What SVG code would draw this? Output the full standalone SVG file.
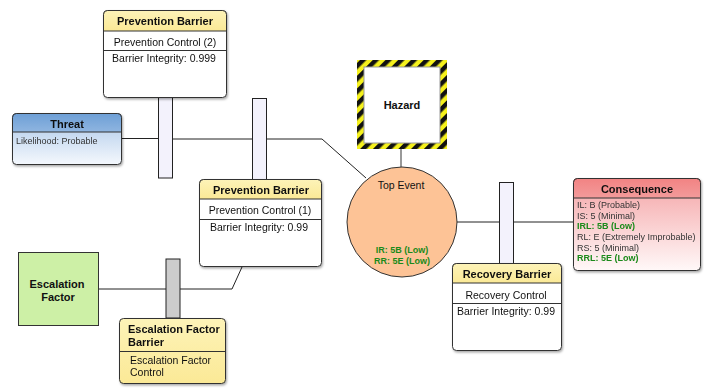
<svg xmlns="http://www.w3.org/2000/svg" width="705" height="388" viewBox="0 0 705 388">
<defs>
<linearGradient id="yel" x1="0" y1="0" x2="0" y2="1"><stop offset="0" stop-color="#fdf3b8"/><stop offset="1" stop-color="#fbe996"/></linearGradient>
<linearGradient id="blueHead" x1="0" y1="0" x2="0" y2="1"><stop offset="0" stop-color="#6d9fd6"/><stop offset="1" stop-color="#8fb5e0"/></linearGradient>
<linearGradient id="blueBody" x1="0" y1="0" x2="0" y2="1"><stop offset="0" stop-color="#a9c6e8"/><stop offset="1" stop-color="#f4f8fd"/></linearGradient>
<linearGradient id="redHead" x1="0" y1="0" x2="0" y2="1"><stop offset="0" stop-color="#f28383"/><stop offset="1" stop-color="#f39b9b"/></linearGradient>
<linearGradient id="redBody" x1="0" y1="0" x2="0" y2="1"><stop offset="0" stop-color="#f4a4a6"/><stop offset="1" stop-color="#fff8f8"/></linearGradient>
<pattern id="stripes" width="9" height="9" patternUnits="userSpaceOnUse" patternTransform="rotate(45)">
<rect width="9" height="9" fill="#f5f11c"/>
<rect width="4.5" height="9" fill="#111"/>
</pattern>
<filter id="sh" x="-10%" y="-10%" width="130%" height="130%"><feDropShadow dx="1" dy="1.5" stdDeviation="1" flood-color="#000" flood-opacity="0.35"/></filter>
</defs>
<style>
text{font-family:"Liberation Sans",Arial,sans-serif;fill:#111}
.t{font-size:11px;font-weight:bold}
.m{text-anchor:middle}
.b{font-size:10.5px}
.s{font-size:9px;fill:#333}
.g{fill:#1a8a1a;font-weight:bold}
.box{stroke:#333;stroke-width:1}
.ln{stroke:#222;stroke-width:1;fill:none}
.bar{fill:#f3f2fc;stroke:#222;stroke-width:1}
</style>

<g id="connectors">
<path class="ln" d="M121 138.5H158M172 139H252M267 139H322L366 178"/>
<path d="M401 149V167" stroke="#999" stroke-width="2" fill="none"/>
<path class="ln" d="M457 222H499M514 222H573"/>
<path class="ln" d="M98 289H166M180 289H232L242 267"/>
</g>

<g id="bar-prevention-2"><rect class="bar" x="158.5" y="97" width="14" height="81"/></g>
<g id="bar-prevention-1"><rect class="bar" x="252.5" y="98.5" width="14" height="81"/></g>
<g id="bar-recovery"><rect class="bar" x="499.5" y="182.5" width="14" height="81"/></g>
<g id="bar-escalation"><rect x="166" y="259" width="14" height="59" fill="#cccccc" stroke="#222"/></g>

<g id="prevention-barrier-2" filter="url(#sh)">
<rect class="box" x="103.5" y="10.5" width="123" height="87" rx="4" fill="#fff"/>
<path d="M103.5 31V14.5a4 4 0 0 1 4-4H222.5a4 4 0 0 1 4 4V31Z" fill="url(#yel)" stroke="#333"/>
<text class="t m" x="165" y="25">Prevention Barrier</text>
<text class="b m" x="165" y="45.5">Prevention Control (2)</text>
<path d="M104 50.5H226" stroke="#333"/>
<text class="b m" x="164" y="62">Barrier Integrity: 0.999</text>
</g>

<g id="threat" filter="url(#sh)">
<rect class="box" x="12.5" y="113.5" width="109" height="51" rx="4" fill="url(#blueBody)"/>
<path d="M12.5 132V117.5a4 4 0 0 1 4-4H117.5a4 4 0 0 1 4 4V132Z" fill="url(#blueHead)" stroke="#333"/>
<text class="t m" x="67" y="127.5">Threat</text>
<text class="s" x="16" y="143.5">Likelihood: Probable</text>
</g>

<g id="hazard">
<rect x="357" y="60" width="90" height="89" fill="url(#stripes)"/>
<rect x="364" y="67" width="76" height="76" fill="#fff" stroke="#999" stroke-width="1"/>
<text class="t m" x="402" y="109">Hazard</text>
</g>

<g id="top-event">
<circle cx="402" cy="222" r="55" fill="#fdc396" stroke="#333" stroke-width="1"/>
<text class="b m" x="401" y="189">Top Event</text>
<text class="s g m" x="402" y="253">IR: 5B (Low)</text>
<text class="s g m" x="402" y="264">RR: 5E (Low)</text>
</g>

<g id="prevention-barrier-1" filter="url(#sh)">
<rect class="box" x="199.5" y="179.5" width="122" height="87" rx="4" fill="#fff"/>
<path d="M199.5 199V183.5a4 4 0 0 1 4-4H317.5a4 4 0 0 1 4 4V199Z" fill="url(#yel)" stroke="#333"/>
<text class="t m" x="261" y="193.5">Prevention Barrier</text>
<text class="b m" x="260" y="214">Prevention Control (1)</text>
<path d="M200 219.5H321" stroke="#333"/>
<text class="b m" x="259" y="231">Barrier Integrity: 0.99</text>
</g>

<g id="consequence" filter="url(#sh)">
<rect class="box" x="573.5" y="178.5" width="127" height="92" rx="4" fill="url(#redBody)"/>
<path d="M573.5 198V182.5a4 4 0 0 1 4-4H696.5a4 4 0 0 1 4 4V198Z" fill="url(#redHead)" stroke="#333"/>
<text class="t m" x="637" y="192.5">Consequence</text>
<text class="s" x="577" y="208">IL: B (Probable)</text>
<text class="s" x="577" y="218.5">IS: 5 (Minimal)</text>
<text class="s g" x="577" y="229">IRL: 5B (Low)</text>
<text class="s" x="577" y="240">RL: E (Extremely Improbable)</text>
<text class="s" x="577" y="250.5">RS: 5 (Minimal)</text>
<text class="s g" x="577" y="261">RRL: 5E (Low)</text>
</g>

<g id="recovery-barrier" filter="url(#sh)">
<rect class="box" x="452.5" y="263.5" width="109" height="87" rx="4" fill="#fff"/>
<path d="M452.5 283V267.5a4 4 0 0 1 4-4H557.5a4 4 0 0 1 4 4V283Z" fill="url(#yel)" stroke="#333"/>
<text class="t m" x="507" y="277.5">Recovery Barrier</text>
<text class="b m" x="506" y="299">Recovery Control</text>
<path d="M453 303.5H561" stroke="#333"/>
<text class="b" x="457" y="315">Barrier Integrity: 0.99</text>
</g>

<g id="escalation-factor">
<rect x="18.5" y="252.5" width="80" height="73" fill="#cdf0a6" stroke="#333"/>
<text class="t m" x="57" y="288">Escalation</text>
<text class="t m" x="58" y="300.5">Factor</text>
</g>

<g id="escalation-factor-barrier" filter="url(#sh)">
<rect class="box" x="119.5" y="318.5" width="106" height="65" rx="4" fill="url(#yel)"/>
<path d="M120 351.5H225" stroke="#333"/>
<text class="t" x="128" y="333">Escalation Factor</text>
<text class="t" x="128" y="345.5">Barrier</text>
<text class="b" x="130" y="364">Escalation Factor</text>
<text class="b" x="130" y="376">Control</text>
</g>
</svg>
